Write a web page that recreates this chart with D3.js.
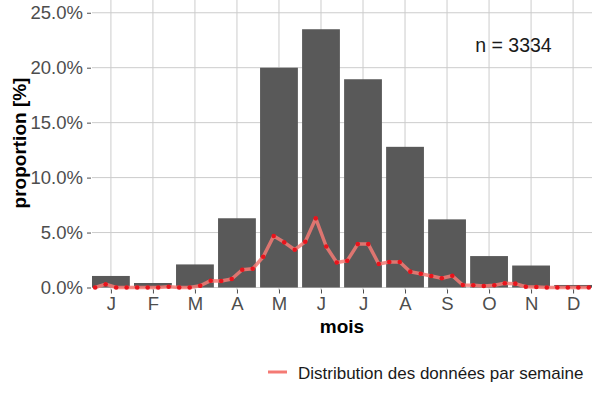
<!DOCTYPE html>
<html>
<head>
<meta charset="utf-8">
<script src="https://cdn.jsdelivr.net/npm/d3@7"></script>
<style>
    body { margin: 0; background: #fff; }
    svg { display: block; font-family: 'Liberation Sans', Arial, sans-serif; }
</style>
</head>
<body>
<div id="chart"></div>
<script>
// Monthly share of observations (%)
const months = ['J', 'F', 'M', 'A', 'M', 'J', 'J', 'A', 'S', 'O', 'N', 'D'];
const monthShare = [1.05, 0.41, 2.1, 6.3, 20.0, 23.5, 18.95, 12.8, 6.2, 2.86, 2.0, 0.23];

// Weekly distribution (%), 4 points per month
const weeklyShare = [
    0.0, 0.3, 0.0, 0.0,
    0.0, 0.0, 0.0, 0.07,
    0.0, 0.0, 0.16, 0.62,
    0.59, 0.77, 1.62, 1.7,
    2.8, 4.68, 4.11, 3.44,
    4.16, 6.29, 3.73, 2.27,
    2.44, 3.95, 3.95, 2.14,
    2.32, 2.32, 1.44, 1.25,
    1.05, 0.84, 1.07, 0.23,
    0.2, 0.14, 0.2, 0.38,
    0.35, 0.07, 0.05, 0.0,
    0.0, 0.0, 0.0, 0.0
];

const yTicks = [0, 5, 10, 15, 20, 25];
const nLabel = 'n = 3334';
const legendLabel = 'Distribution des données par semaine';

const width = 600;
const height = 400;
const panel = { left: 92, right: 592, top: 0, bottom: 290 };

const svg = d3.select('#chart')
    .append('svg')
    .attr('width', width)
    .attr('height', height);

// month index 1..12 on a continuous scale
const x = d3.scaleLinear()
    .domain([0.55, 12.45])
    .range([panel.left, panel.right]);

const y = d3.scaleLinear()
    .domain([0, 25])
    .range([287.5, 12.75]);

const gridColor = '#cccccc';
const tickColor = '#4d4d4d';
const lineColor = '#f47a74';

// Grid lines
svg.append('g')
    .selectAll('line')
    .data(yTicks)
    .join('line')
    .attr('x1', panel.left)
    .attr('x2', panel.right)
    .attr('y1', d => y(d))
    .attr('y2', d => y(d))
    .attr('stroke', gridColor)
    .attr('stroke-width', 1);

svg.append('g')
    .selectAll('line')
    .data(months)
    .join('line')
    .attr('x1', (d, i) => x(i + 1))
    .attr('x2', (d, i) => x(i + 1))
    .attr('y1', panel.top)
    .attr('y2', panel.bottom)
    .attr('stroke', gridColor)
    .attr('stroke-width', 1);

// Bars (0.9 month wide)
svg.append('g')
    .selectAll('rect')
    .data(monthShare)
    .join('rect')
    .attr('x', (d, i) => x(i + 1 - 0.45))
    .attr('width', x(1.45) - x(0.55))
    .attr('y', d => y(d))
    .attr('height', d => y(0) - y(d))
    .attr('fill', '#595959');

// Weekly line + points
const weekPos = i => 0.5 + (i + 0.5) / 4;
const line = d3.line()
    .x((d, i) => x(weekPos(i)))
    .y(d => y(d));

svg.append('path')
    .datum(weeklyShare)
    .attr('fill', 'none')
    .attr('stroke', lineColor)
    .attr('stroke-opacity', 0.85)
    .attr('stroke-width', 3.5)
    .attr('stroke-linejoin', 'round')
    .attr('d', line);

svg.append('g')
    .selectAll('circle')
    .data(weeklyShare)
    .join('circle')
    .attr('cx', (d, i) => x(weekPos(i)))
    .attr('cy', d => y(d))
    .attr('r', 2.3)
    .attr('fill', '#e8141c');

// Y axis
const yAxis = d3.axisLeft(y)
    .tickValues(yTicks)
    .tickSize(4)
    .tickPadding(4)
    .tickFormat(d => d.toFixed(1) + '%');

svg.append('g')
    .attr('transform', `translate(${panel.left - 1},0)`)
    .call(yAxis)
    .call(g => g.select('.domain').remove())
    .call(g => g.selectAll('line').attr('stroke', tickColor))
    .call(g => g.selectAll('text')
        .attr('fill', tickColor)
        .style('font-size', '18.5px')
        .style('font-family', "'Liberation Sans', Arial, sans-serif"));

// X axis
const xAxis = d3.axisBottom(x)
    .tickValues(d3.range(1, 13))
    .tickSize(4)
    .tickPadding(3)
    .tickFormat(d => months[d - 1]);

svg.append('g')
    .attr('transform', `translate(0,${panel.bottom - 0.5})`)
    .call(xAxis)
    .call(g => g.select('.domain').remove())
    .call(g => g.selectAll('line').attr('stroke', tickColor))
    .call(g => g.selectAll('text')
        .attr('fill', tickColor)
        .style('font-size', '18.5px')
        .style('font-family', "'Liberation Sans', Arial, sans-serif"));

// Axis titles
svg.append('text')
    .attr('x', (panel.left + panel.right) / 2)
    .attr('y', 333)
    .attr('text-anchor', 'middle')
    .style('font-size', '19px')
    .style('font-weight', 'bold')
    .attr('fill', '#000')
    .text('mois');

svg.append('text')
    .attr('transform', 'rotate(-90)')
    .attr('x', -143)
    .attr('y', 26)
    .attr('text-anchor', 'middle')
    .style('font-size', '19px')
    .style('font-weight', 'bold')
    .attr('fill', '#000')
    .text('proportion [%]');

// n annotation
svg.append('text')
    .attr('x', 513.5)
    .attr('y', 52)
    .attr('text-anchor', 'middle')
    .style('font-size', '19.5px')
    .attr('fill', '#1a1a1a')
    .text(nLabel);

// Legend
const legend = svg.append('g')
    .attr('transform', 'translate(268, 372)');

legend.append('line')
    .attr('x1', 0)
    .attr('x2', 19)
    .attr('y1', 0)
    .attr('y2', 0)
    .attr('stroke', lineColor)
    .attr('stroke-width', 3);

legend.append('text')
    .attr('x', 30)
    .attr('y', 7.3)
    .style('font-size', '17px')
    .attr('fill', '#1a1a1a')
    .text(legendLabel);
</script>
</body>
</html>
